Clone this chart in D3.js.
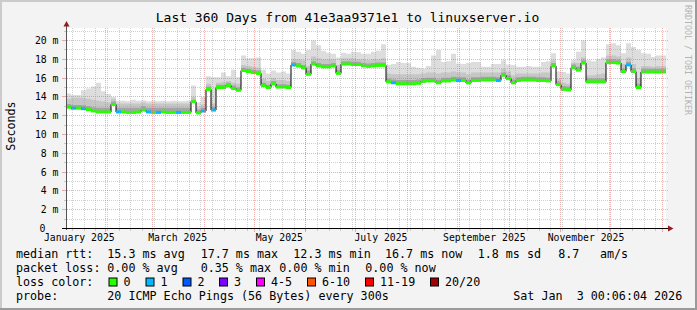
<!DOCTYPE html>
<html>
<head>
<meta charset="utf-8">
<script src="https://cdn.jsdelivr.net/npm/d3@7"></script>
<style>
  body { margin: 0; background: #ffffff; }
  svg { display: block; font-family: "DejaVu Sans Mono", monospace; }
</style>
</head>
<body>
<div id="my_graph"></div>
<script>
// time range of the graph (last 360 days, one value per 3 days)
var endTime = new Date(Date.UTC(2026, 0, 3, 0, 6, 4));
var totalDays = 360;
var binDays = 3;

// median rtt in ms, one per bin
var median = [
  12.9, 12.8, 12.8, 12.75, 12.65, 12.5, 12.4, 12.4, 12.4, 13.2,
  12.4, 12.4, 12.35, 12.35, 12.4, 12.6, 12.4, 12.35, 12.35, 12.4,
  12.35, 12.35, 12.35, 12.35, 12.35, 13.5, 12.3, 12.5, 14.8, 12.6,
  15.0, 15.0, 15.2, 14.9, 14.7, 16.8, 16.7, 16.6, 16.5, 15.2,
  15.0, 15.4, 15.05, 15.05, 15.0, 17.4, 17.3, 17.1, 16.4, 17.5,
  17.3, 17.2, 17.2, 17.3, 16.5, 17.5, 17.5, 17.45, 17.45, 17.3,
  17.25, 17.3, 17.35, 17.35, 15.6, 15.5, 15.4, 15.4, 15.4, 15.4,
  15.45, 15.65, 15.7, 15.7, 15.5, 15.7, 15.7, 15.8, 15.75, 15.75,
  15.5, 15.75, 15.75, 15.8, 15.8, 15.8, 15.75, 16.3, 15.95, 15.5,
  15.75, 15.8, 15.8, 15.8, 15.75, 15.75, 15.7, 17.3, 15.3, 14.8,
  14.75, 17.1, 16.85, 17.6, 15.6, 15.6, 15.6, 15.6, 17.65, 17.65,
  17.6, 16.7, 17.4, 16.7, 15.0, 16.65, 16.65, 16.65, 16.65, 16.65
]

// lost pings (of 20) per bin
var lossCount = [
  0, 1, 0, 1, 0, 0, 0, 0, 0, 0,
  1, 0, 0, 0, 0, 0, 1, 0, 1, 0,
  0, 0, 1, 0, 0, 0, 0, 1, 0, 1,
  0, 0, 0, 0, 0, 0, 0, 0, 0, 0,
  0, 0, 0, 0, 0, 1, 0, 0, 0, 0,
  0, 0, 0, 0, 0, 0, 0, 0, 0, 0,
  0, 0, 0, 0, 0, 1, 0, 0, 0, 0,
  0, 0, 0, 0, 0, 0, 0, 0, 1, 0,
  0, 0, 0, 0, 0, 0, 1, 0, 0, 0,
  0, 0, 0, 0, 0, 0, 0, 0, 0, 0,
  0, 0, 0, 0, 0, 0, 0, 0, 0, 0,
  0, 0, 1, 0, 0, 0, 0, 0, 0, 0
]

// smoke: upper edges of the dark, medium and light gray bands (ms)
var smokeLow = [
  13.25, 13.15, 13.15, 13.1, 13.0, 12.9, 12.85, 12.85, 12.85, 13.5,
  12.85, 12.85, 12.85, 12.85, 12.85, 13.0, 12.85, 12.85, 12.85, 12.85,
  12.85, 12.85, 12.85, 12.85, 12.85, 13.7, 12.65, 12.85, 15.1, 12.95,
  15.3, 15.3, 15.5, 15.2, 15.0, 17.1, 17.0, 16.9, 16.8, 15.5,
  15.3, 15.7, 15.35, 15.35, 15.3, 17.7, 17.6, 17.4, 16.8, 17.8,
  17.6, 17.5, 17.5, 17.6, 16.9, 17.8, 17.8, 17.75, 17.75, 17.6,
  17.55, 17.6, 17.65, 17.65, 15.95, 15.85, 15.8, 15.8, 15.8, 15.8,
  15.85, 16.0, 16.05, 16.05, 15.85, 16.05, 16.05, 16.15, 16.1, 16.1,
  15.85, 16.1, 16.1, 16.15, 16.15, 16.15, 16.1, 16.6, 16.3, 15.85,
  16.1, 16.15, 16.15, 16.15, 16.1, 16.1, 16.05, 17.6, 15.65, 15.15,
  15.1, 17.45, 17.2, 17.9, 15.95, 15.95, 15.95, 15.95, 18.0, 18.0,
  17.95, 17.05, 17.75, 17.05, 15.4, 17.0, 17.0, 17.0, 17.0, 17.0
]
var smokeMid = [
  13.8, 13.9, 13.9, 13.9, 13.8, 13.7, 13.6, 13.5, 13.4, 13.8,
  13.3, 13.3, 13.3, 13.3, 13.3, 13.4, 13.3, 13.3, 13.3, 13.3,
  13.3, 13.3, 13.3, 13.3, 13.3, 14.0, 12.9, 13.2, 15.4, 13.3,
  15.5, 15.6, 15.7, 15.5, 15.4, 17.4, 17.3, 17.2, 17.1, 15.9,
  15.7, 16.0, 15.8, 15.8, 15.7, 18.0, 18.0, 17.9, 17.3, 18.3,
  18.1, 18.0, 18.0, 18.0, 17.4, 18.1, 18.1, 18.1, 18.0, 18.0,
  17.9, 18.0, 18.0, 18.1, 16.5, 16.4, 16.4, 16.4, 16.4, 16.4,
  16.4, 16.5, 16.6, 16.6, 16.5, 16.6, 16.6, 16.7, 16.6, 16.6,
  16.4, 16.6, 16.6, 16.6, 16.6, 16.6, 16.6, 17.0, 16.7, 16.3,
  16.5, 16.5, 16.5, 16.5, 16.5, 16.6, 16.6, 17.9, 15.9, 15.5,
  15.4, 17.6, 17.6, 18.2, 16.3, 16.3, 16.4, 16.5, 18.4, 18.4,
  18.3, 17.5, 18.2, 17.5, 16.0, 17.3, 17.3, 17.2, 17.3, 17.3
]
var smokeMax = [
  14.35, 14.2, 14.2, 14.7, 14.9, 15.1, 15.5, 14.6, 14.3, 14.0,
  13.6, 13.6, 13.55, 13.7, 13.6, 13.65, 13.55, 13.6, 13.55, 13.6,
  13.55, 13.6, 13.55, 13.55, 13.6, 15.2, 13.4, 14.0, 16.2, 16.1,
  16.1, 16.6, 16.2, 16.9, 16.1, 18.4, 18.1, 18.1, 18.2, 16.9,
  16.5, 16.8, 16.6, 16.7, 16.5, 19.0, 18.8, 18.6, 19.0, 20.0,
  19.5, 18.9, 18.7, 18.6, 18.2, 18.7, 18.6, 18.8, 18.75, 18.6,
  18.6, 18.8, 18.9, 19.6, 17.4, 17.5, 17.7, 17.6, 17.6, 17.2,
  17.1, 17.0, 17.3, 18.4, 19.0, 17.7, 17.8, 18.6, 17.55, 17.5,
  17.6, 17.7, 17.7, 17.2, 17.2, 17.5, 17.5, 17.9, 17.45, 17.4,
  17.2, 17.2, 17.3, 17.2, 17.2, 17.7, 17.8, 18.65, 16.7, 16.65,
  16.5, 17.9, 18.8, 20.0, 17.9, 17.8, 18.0, 18.2, 19.6, 19.7,
  19.5, 18.65, 19.7, 19.3, 19.0, 18.65, 18.6, 18.25, 18.4, 18.4
]

// axis ticks and labels
var yTicks = [0, 2, 4, 6, 8, 10, 12, 14, 16, 18, 20]
var xLabels = ["January 2025", "March 2025", "May 2025", "July 2025", "September 2025", "November 2025"]

// loss color legend
var lossLabels = ["0", "1", "2", "3", "4-5", "6-10", "11-19", "20/20"]
var lossColors = ["#26ff00", "#00b8ff", "#0059ff", "#7e00ff", "#ff00ff", "#ff5500", "#ff0000", "#a10000"]
var lossUpper = [0, 1, 2, 3, 5, 10, 19, 20]

// legend statistics
var rttStats = ["15.3 ms avg", "17.7 ms max", "12.3 ms min", "16.7 ms now", "1.8 ms sd", "8.7", "am/s"]
var lossStats = ["0.00 % avg", "0.35 % max", "0.00 % min", "0.00 % now"]

var W = 697, H = 310
var plot = { left: 66, right: 666, top: 28, bottom: 228 }

var svg = d3.select("#my_graph")
  .append("svg")
  .attr("width", W)
  .attr("height", H)

// background with the rrdtool 3d frame
svg.append("rect").attr("width", W).attr("height", H).attr("fill", "#f3f3f3")
svg.append("path").attr("d", "M0,0H" + W + "V2H2V" + H + "H0Z").attr("fill", "#cbcbcb")
svg.append("path").attr("d", "M" + W + "," + H + "H0V" + (H - 2) + "H" + (W - 2) + "V0H" + W + "Z").attr("fill", "#9a9a9a")

// canvas
svg.append("rect")
  .attr("x", plot.left).attr("y", plot.top)
  .attr("width", plot.right - plot.left).attr("height", plot.bottom - plot.top)
  .attr("fill", "#ffffff")

var startTime = d3.utcDay.offset(endTime, -totalDays)

var x = d3.scaleUtc()
  .domain([startTime, endTime])
  .range([plot.left, plot.right])

var y = d3.scaleLinear()
  .domain([0, 20])
  .range([plot.bottom + 0.5, 40.5])

var crisp = function (v) { return Math.floor(v) + 0.5 }

// rows of the step data (last row closes the final step)
var rows = median.map(function (m, i) {
  return { t: d3.utcDay.offset(startTime, i * binDays), med: m, low: smokeLow[i], mid: smokeMid[i], max: smokeMax[i], loss: lossCount[i] }
})
rows.push(Object.assign({}, rows[rows.length - 1], { t: endTime }))

svg.append("clipPath").attr("id", "clip")
  .append("rect")
  .attr("x", plot.left).attr("y", plot.top)
  .attr("width", plot.right - plot.left).attr("height", plot.bottom - plot.top)

var g = svg.append("g").attr("clip-path", "url(#clip)")

// smoke bands, light to dark
var bands = [["max", "#dddddd"], ["mid", "#c6c6c6"], ["low", "#a4a4a4"]]
bands.forEach(function (b) {
  g.append("path")
    .datum(rows)
    .attr("fill", b[1])
    .attr("d", d3.area()
      .curve(d3.curveStepAfter)
      .x(function (d) { return x(d.t) })
      .y0(function (d) { return y(d.med) })
      .y1(function (d) { return y(d[b[0]]) }))
})

// thin black median step line
g.append("path")
  .datum(rows)
  .attr("fill", "none")
  .attr("stroke", "#000000")
  .attr("stroke-width", 1)
  .attr("d", d3.line()
    .curve(d3.curveStepAfter)
    .x(function (d) { return x(d.t) })
    .y(function (d) { return y(d.med) }))

// thick median colored by packet loss
var lossColor = function (n) {
  for (var k = 0; k < lossUpper.length; k++) { if (n <= lossUpper[k]) return lossColors[k] }
  return lossColors[lossColors.length - 1]
}
g.selectAll("rect.med")
  .data(rows.slice(0, -1))
  .enter().append("rect")
  .attr("class", "med")
  .attr("x", function (d) { return x(d.t) })
  .attr("width", function (d, i) { return x(rows[i + 1].t) - x(d.t) })
  .attr("y", function (d) { return y(d.med) - 1.5 })
  .attr("height", 3)
  .attr("fill", function (d) { return lossColor(d.loss) })

// grid, drawn on top like rrdtool does
var grid = svg.append("g").attr("stroke-width", 1).attr("stroke-dasharray", "1,1")
var minorColor = "rgba(150,150,150,0.45)"
var majorColor = "rgba(224,96,96,0.5)"

d3.range(1, 22).forEach(function (v) {
  var yy = crisp(y(v))
  if (yy < plot.top) return
  var major = yTicks.indexOf(v) >= 0
  grid.append("line")
    .attr("x1", plot.left + 1).attr("x2", plot.right + 2)
    .attr("y1", yy).attr("y2", yy)
    .attr("stroke", major ? majorColor : minorColor)
  svg.append("line")
    .attr("x1", major ? 62 : 64).attr("x2", plot.left)
    .attr("y1", yy).attr("y2", yy)
    .attr("stroke", major ? majorColor : minorColor)
})

d3.utcSunday.range(startTime, endTime).forEach(function (t) {
  var xx = crisp(x(t))
  grid.append("line")
    .attr("x1", xx).attr("x2", xx)
    .attr("y1", plot.top).attr("y2", plot.bottom)
    .attr("stroke", minorColor)
  svg.append("line")
    .attr("x1", xx).attr("x2", xx)
    .attr("y1", plot.bottom + 1).attr("y2", plot.bottom + 3)
    .attr("stroke", minorColor)
})
d3.utcMonth.range(startTime, endTime).forEach(function (t) {
  var xx = crisp(x(t))
  grid.append("line")
    .attr("x1", xx).attr("x2", xx)
    .attr("y1", plot.top).attr("y2", plot.bottom)
    .attr("stroke", majorColor)
  svg.append("line")
    .attr("x1", xx).attr("x2", xx)
    .attr("y1", plot.bottom + 1).attr("y2", plot.bottom + 4)
    .attr("stroke", majorColor)
})

// axes with arrows
svg.append("line")
  .attr("x1", plot.left + 0.5).attr("x2", plot.left + 0.5)
  .attr("y1", plot.bottom + 2).attr("y2", 25)
  .attr("stroke", "#555555")
svg.append("line")
  .attr("x1", 62).attr("x2", 669)
  .attr("y1", plot.bottom + 0.5).attr("y2", plot.bottom + 0.5)
  .attr("stroke", "#000000")
svg.append("path").attr("d", "M63.5,26.5L69.5,26.5L66.5,21Z").attr("fill", "#8f1d1d")
svg.append("path").attr("d", "M668,225.5L668,231.5L673.5,228.5Z").attr("fill", "#8f1d1d")

// y tick labels
svg.selectAll("text.ylab")
  .data(yTicks)
  .enter().append("text")
  .attr("class", "ylab")
  .attr("x", function (d) { return d === 0 ? 45.5 : 58.5 })
  .attr("y", function (d) { return crisp(y(d)) + 3.5 })
  .attr("text-anchor", "end")
  .attr("font-size", "9.8px")
  .attr("fill", "#000")
  .text(function (d) { return d === 0 ? "0" : d + " m" })

// x labels centred on the middle of their month
var parseMonth = d3.utcParse("%B %Y")
svg.selectAll("text.xlab")
  .data(xLabels)
  .enter().append("text")
  .attr("class", "xlab")
  .attr("x", function (d) { return x(d3.utcDay.offset(parseMonth(d), 15)) })
  .attr("y", 241)
  .attr("text-anchor", "middle")
  .attr("font-size", "9.8px")
  .attr("fill", "#000")
  .text(function (d) { return d })

// title, vertical label, watermark
svg.append("text")
  .attr("x", 347.5).attr("y", 22)
  .attr("text-anchor", "middle")
  .attr("font-size", "13px")
  .text("Last 360 Days from 41e3aa9371e1 to linuxserver.io")

svg.append("text")
  .attr("transform", "translate(14.5,126) rotate(-90)")
  .attr("text-anchor", "middle")
  .attr("font-size", "11.7px")
  .text("Seconds")

svg.append("text")
  .attr("transform", "translate(684.5,5) rotate(90)")
  .attr("font-size", "8.3px")
  .attr("fill", "#b4b4b4")
  .text("RRDTOOL / TOBI OETIKER")

// legend
var legend = svg.append("g").attr("font-size", "11.7px").attr("fill", "#000")
var addText = function (tx, ty, s) {
  legend.append("text").attr("x", tx).attr("y", ty).attr("xml:space", "preserve").text(s)
}
var rttX = [107.3, 200.7, 293.3, 385, 477.7, 558.3, 600]
addText(16, 258.3, "median rtt:")
rttStats.forEach(function (s, i) { addText(rttX[i], 258.3, s) })

var lossX = [107.3, 200.7, 279.3, 365.3]
addText(16, 272, "packet loss:")
lossStats.forEach(function (s, i) { addText(lossX[i], 272, s) })

var boxX = [109, 146, 183, 219.5, 256.5, 307.5, 365.5, 430.5]
addText(16, 285.8, "loss color:")
lossLabels.forEach(function (s, i) {
  legend.append("rect")
    .attr("x", boxX[i]).attr("y", 278)
    .attr("width", 8).attr("height", 8)
    .attr("fill", lossColors[i])
    .attr("stroke", "#000").attr("stroke-width", 1)
  addText(boxX[i] + 14.5, 285.8, s)
})

addText(16, 299.7, "probe:")
addText(107.3, 299.7, "20 ICMP Echo Pings (56 Bytes) every 300s")
addText(513.3, 299.7, "Sat Jan  3 00:06:04 2026")
</script>
</body>
</html>
